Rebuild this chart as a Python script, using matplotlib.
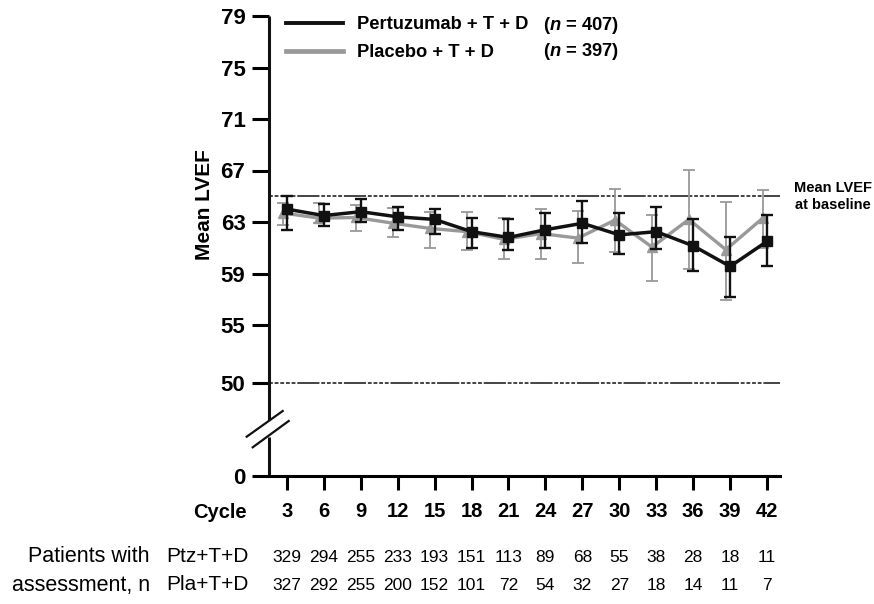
import numpy as np
import matplotlib.pyplot as plt
from matplotlib.lines import Line2D
from matplotlib.transforms import blended_transform_factory

plt.rcParams['font.family'] = ['Liberation Sans', 'DejaVu Sans']
plt.rcParams['mathtext.fontset'] = 'custom'
plt.rcParams['mathtext.it'] = 'Liberation Sans:italic:bold'
plt.rcParams['mathtext.rm'] = 'Liberation Sans:bold'

cycles = [3, 6, 9, 12, 15, 18, 21, 24, 27, 30, 33, 36, 39, 42]

# Pertuzumab + T + D: mean LVEF and error bar ends
ptz_mean = [64.0, 63.5, 63.8, 63.4, 63.2, 62.25, 61.8, 62.4, 62.9, 62.0, 62.25, 61.15, 59.55, 61.5]
ptz_lo = [62.4, 62.7, 63.0, 62.4, 62.1, 61.0, 60.8, 61.0, 61.4, 60.5, 60.9, 59.2, 57.2, 59.6]
ptz_hi = [65.0, 64.4, 64.8, 64.2, 64.0, 63.3, 63.2, 63.7, 64.6, 63.7, 64.15, 63.2, 61.85, 63.55]

# Placebo + T + D
pla_mean = [63.7, 63.3, 63.35, 62.9, 62.5, 62.25, 61.65, 62.1, 61.75, 63.15, 61.05, 63.2, 60.85, 63.3]
pla_lo = [62.8, 62.9, 62.3, 61.8, 61.0, 60.8, 60.1, 60.1, 59.8, 60.7, 58.45, 59.35, 56.95, 61.0]
pla_hi = [64.45, 64.5, 64.3, 64.05, 63.8, 63.75, 63.3, 64.0, 63.85, 65.55, 63.55, 67.05, 64.55, 65.5]

ptz_n = [329, 294, 255, 233, 193, 151, 113, 89, 68, 55, 38, 28, 18, 11]
pla_n = [327, 292, 255, 200, 152, 101, 72, 54, 32, 27, 18, 14, 11, 7]

yticks = [0, 50, 55, 59, 63, 67, 71, 75, 79]
baseline = 65
lower_ref = 50

# broken y axis: 0..50 squeezed, 50..55 and 55..79 nearly linear
seg_vals = [0, 50, 55, 79]
seg_pos = [0, 93, 151, 460]


def fwd(v):
    return np.interp(v, seg_vals, seg_pos)


def inv(u):
    return np.interp(u, seg_pos, seg_vals)


fig = plt.figure(figsize=(8.74, 6.04), dpi=100)
W, H = 874, 604
ax = fig.add_axes([269 / W, 1 - 476 / H, 511 / W, 460 / H])
ax.set_yscale('function', functions=(fwd, inv))
ax.set_ylim(0, 79)
ax.set_xlim(1.55, 43.05)

black = '#111111'
grey = '#999999'
dodge = -0.35

pla_x = [c + dodge for c in cycles]
pm = np.array(pla_mean)
ax.errorbar(pla_x, pla_mean, yerr=[pm - np.array(pla_lo), np.array(pla_hi) - pm],
            color=grey, lw=2.4, marker='^', ms=7, elinewidth=1.3, capsize=4,
            capthick=1.3, zorder=3)
km = np.array(ptz_mean)
ax.errorbar(cycles, ptz_mean, yerr=[km - np.array(ptz_lo), np.array(ptz_hi) - km],
            color=black, lw=2.5, marker='s', ms=7.5, elinewidth=1.7, capsize=4.5,
            capthick=1.7, zorder=4)

ref_style = (0, (2.5, 1.2, 2.5, 1.2, 2.5, 1.2, 2.5, 1.2, 2.5, 1.2, 12, 0.01))
for yref in [baseline, lower_ref]:
    ax.axhline(yref, color=black, lw=1.1, ls=ref_style, zorder=2)

# axes frame
for s in ['top', 'right', 'left']:
    ax.spines[s].set_visible(False)
ax.spines['bottom'].set_linewidth(2.2)
ytr = ax.get_yaxis_transform()
ax.plot([0, 0], [0, 21], color=black, lw=2.2, transform=ytr, clip_on=False, solid_capstyle='butt')
ax.plot([0, 0], [30, 79], color=black, lw=2.2, transform=ytr, clip_on=False, solid_capstyle='butt')
for (x0, y0, x1, y1) in [(246.7, 436.7, 282.7, 411), (252.7, 447.3, 288.7, 421)]:
    fig.add_artist(Line2D([x0 / W, x1 / W], [1 - y0 / H, 1 - y1 / H], color=black, lw=1.6))

ax.set_yticks(yticks)
ax.set_yticklabels([str(t) for t in yticks])
ax.set_xticks(cycles)
ax.set_xticklabels([str(c) for c in cycles])
ax.tick_params(axis='y', direction='out', length=12, width=2.2, pad=5, labelsize=16)
ax.tick_params(axis='x', direction='out', length=10, width=2.2, pad=9, labelsize=14.5)
for lab in ax.get_yticklabels() + ax.get_xticklabels():
    lab.set_fontweight('bold')

fig.text(205 / W, 1 - 205 / H, 'Mean LVEF', rotation=90, ha='center', va='center',
         fontsize=15, fontweight='bold')

# legend
handles = [Line2D([], [], color=black, lw=2.8), Line2D([], [], color=grey, lw=3.4)]
leg = ax.legend(handles, ['Pertuzumab + T + D', 'Placebo + T + D'], loc='upper left',
                bbox_to_anchor=(286 / W, 1 - 16 / H), bbox_transform=fig.transFigure,
                frameon=False, borderpad=0, borderaxespad=0, handlelength=3.1,
                handletextpad=0.75, labelspacing=0.62, prop={'weight': 'bold', 'size': 13.2})
fig.text(543 / W, 1 - 25 / H, r'($n$ = 407)', ha='left', va='center', fontsize=13.2, fontweight='bold')
fig.text(543 / W, 1 - 52 / H, r'($n$ = 397)', ha='left', va='center', fontsize=13.2, fontweight='bold')

btr = blended_transform_factory(fig.transFigure, ax.transData)
ax.text(833 / W, baseline, 'Mean LVEF\nat baseline', transform=btr, ha='center', va='center',
        fontsize=10.5, fontweight='bold', linespacing=1.25)

# patients-at-assessment table
fig.text(247 / W, 1 - 513 / H, 'Cycle', ha='right', va='center', fontsize=14.5, fontweight='bold')
ttr = blended_transform_factory(ax.transData, fig.transFigure)
for c, a, b in zip(cycles, ptz_n, pla_n):
    ax.text(c, 1 - 557 / H, str(a), transform=ttr, ha='center', va='center', fontsize=12.5)
    ax.text(c, 1 - 585 / H, str(b), transform=ttr, ha='center', va='center', fontsize=12.5)
fig.text(249 / W, 1 - 557 / H, 'Ptz+T+D', ha='right', va='center', fontsize=15)
fig.text(249 / W, 1 - 585 / H, 'Pla+T+D', ha='right', va='center', fontsize=15)
fig.text(150 / W, 1 - 557 / H, 'Patients with', ha='right', va='center', fontsize=15.5)
fig.text(150 / W, 1 - 585 / H, 'assessment, n', ha='right', va='center', fontsize=15.5)

fig.savefig('out.png', dpi=100)
